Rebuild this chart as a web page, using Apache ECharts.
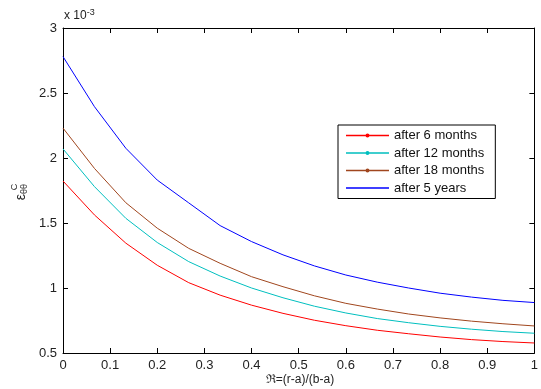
<!DOCTYPE html>
<html><head><meta charset="utf-8">
<script src="https://cdn.jsdelivr.net/npm/echarts@6/dist/echarts.min.js"></script>
<style>html,body{margin:0;padding:0;background:#fff}#c{width:541px;height:389px}</style>
</head><body><div id="c"></div>
<script>
// x positions (normalized radius) and values in units of 1e-3
var xs = [0, 0.0667, 0.1333, 0.2, 0.2667, 0.3333, 0.4, 0.4667, 0.5333, 0.6, 0.6667, 0.7333, 0.8, 0.8667, 0.9333, 1];
var after6m  = [1.823,1.562,1.345,1.175,1.041,0.945,0.868,0.805,0.752,0.71,0.675,0.648,0.623,0.603,0.588,0.577];
var after12m = [2.07,1.78,1.536,1.35,1.203,1.092,1.0,0.925,0.86,0.808,0.765,0.733,0.705,0.683,0.665,0.652];
var after18m = [2.23,1.92,1.656,1.46,1.305,1.19,1.087,1.01,0.94,0.882,0.838,0.8,0.77,0.745,0.725,0.708];
var after5y  = [2.78,2.395,2.075,1.83,1.655,1.48,1.357,1.255,1.17,1.1,1.045,1.0,0.96,0.93,0.905,0.888];
var names = ['after 6 months','after 12 months','after 18 months','after 5 years'];
var colors = ['#ff0000','#00bfbf','#a0461e','#0000ff'];
var seriesVals = [after6m, after12m, after18m, after5y];

function pairs(v){ return xs.map(function(x,i){return [x, v[i]];}); }
var font = 'Liberation Sans, Arial, sans-serif';
var iconDot = 'path://M0,1.3 L43,1.3 L43,2.7 L0,2.7 Z M19.5,2 a2,2 0 1,1 4,0 a2,2 0 1,1 -4,0 Z';
var iconLine = 'path://M0,1.3 L43,1.3 L43,2.7 L0,2.7 Z M0,0 L0.001,0 L0,0.001 Z M0,4 L0.001,4 L0,3.999 Z';
var chart = echarts.init(document.getElementById('c'));
var axisCommon = {
  axisLine:{show:true,onZero:false,lineStyle:{color:'#000',width:1}},
  axisTick:{show:true,inside:true,length:5,lineStyle:{color:'#000'}},
  splitLine:{show:false}
};
chart.setOption({
  animation:false,
  grid:{left:63,right:1,top:28,bottom:36,containLabel:false},
  xAxis:[
    Object.assign({type:'value',min:0,max:1,interval:0.1,position:'bottom',
      axisLabel:{color:'#222',fontSize:13,fontFamily:font,margin:6}},axisCommon),
    Object.assign({type:'value',min:0,max:1,interval:0.1,position:'top',
      axisLabel:{show:false}},axisCommon)
  ],
  yAxis:[
    Object.assign({type:'value',min:0.5,max:3,interval:0.5,position:'left',
      axisLabel:{color:'#222',fontSize:13,fontFamily:font,margin:6}},axisCommon),
    Object.assign({type:'value',min:0.5,max:3,interval:0.5,position:'right',
      axisLabel:{show:false}},axisCommon)
  ],
  legend:{
    left:338, top:125, orient:'vertical',
    data:names.map(function(n,i){ return {name:n, icon: i<3 ? iconDot : iconLine}; }),
    backgroundColor:'#fff', borderColor:'#000', borderWidth:1,
    padding:[4,11,4,8], itemWidth:43, itemHeight:4, itemGap:4.5,
    textStyle:{color:'#111',fontSize:13,fontFamily:font}
  },
  series: seriesVals.map(function(v,i){
    return {
      name:names[i], type:'line', xAxisIndex:0, yAxisIndex:0,
      data:pairs(v),
      symbol:'none', showSymbol:false,
      lineStyle:{color:colors[i],width:1},
      itemStyle:{color:colors[i]},
      emphasis:{disabled:true}
    };
  }),
  graphic:[
    {type:'text', left:64, top:8,
      style:{text:'{a|x 10}{b|-3}', rich:{a:{fontSize:12,fontFamily:font,fill:'#222'},b:{fontSize:9,fontFamily:font,fill:'#222',verticalAlign:'top',padding:[0,0,6,0]}}}},
    {type:'text', x:21, y:192, rotation:Math.PI/2,
      style:{text:'{e|ε}{s|θθ}', rich:{e:{fontSize:14,fontFamily:font,fill:'#222'},s:{fontSize:9,fontFamily:font,fill:'#222',padding:[8,0,0,0]}}, align:'center', verticalAlign:'middle'}},
    {type:'text', x:15, y:187, rotation:Math.PI/2,
      style:{text:'C', fontSize:9, fontFamily:font, fill:'#222', align:'center', verticalAlign:'middle'}},
    {type:'text', x:300, y:380,
      style:{text:'ℜ=(r-a)/(b-a)', fontSize:12, fontFamily:font, fill:'#222', align:'center', verticalAlign:'middle'}}
  ]
});
</script></body></html>
